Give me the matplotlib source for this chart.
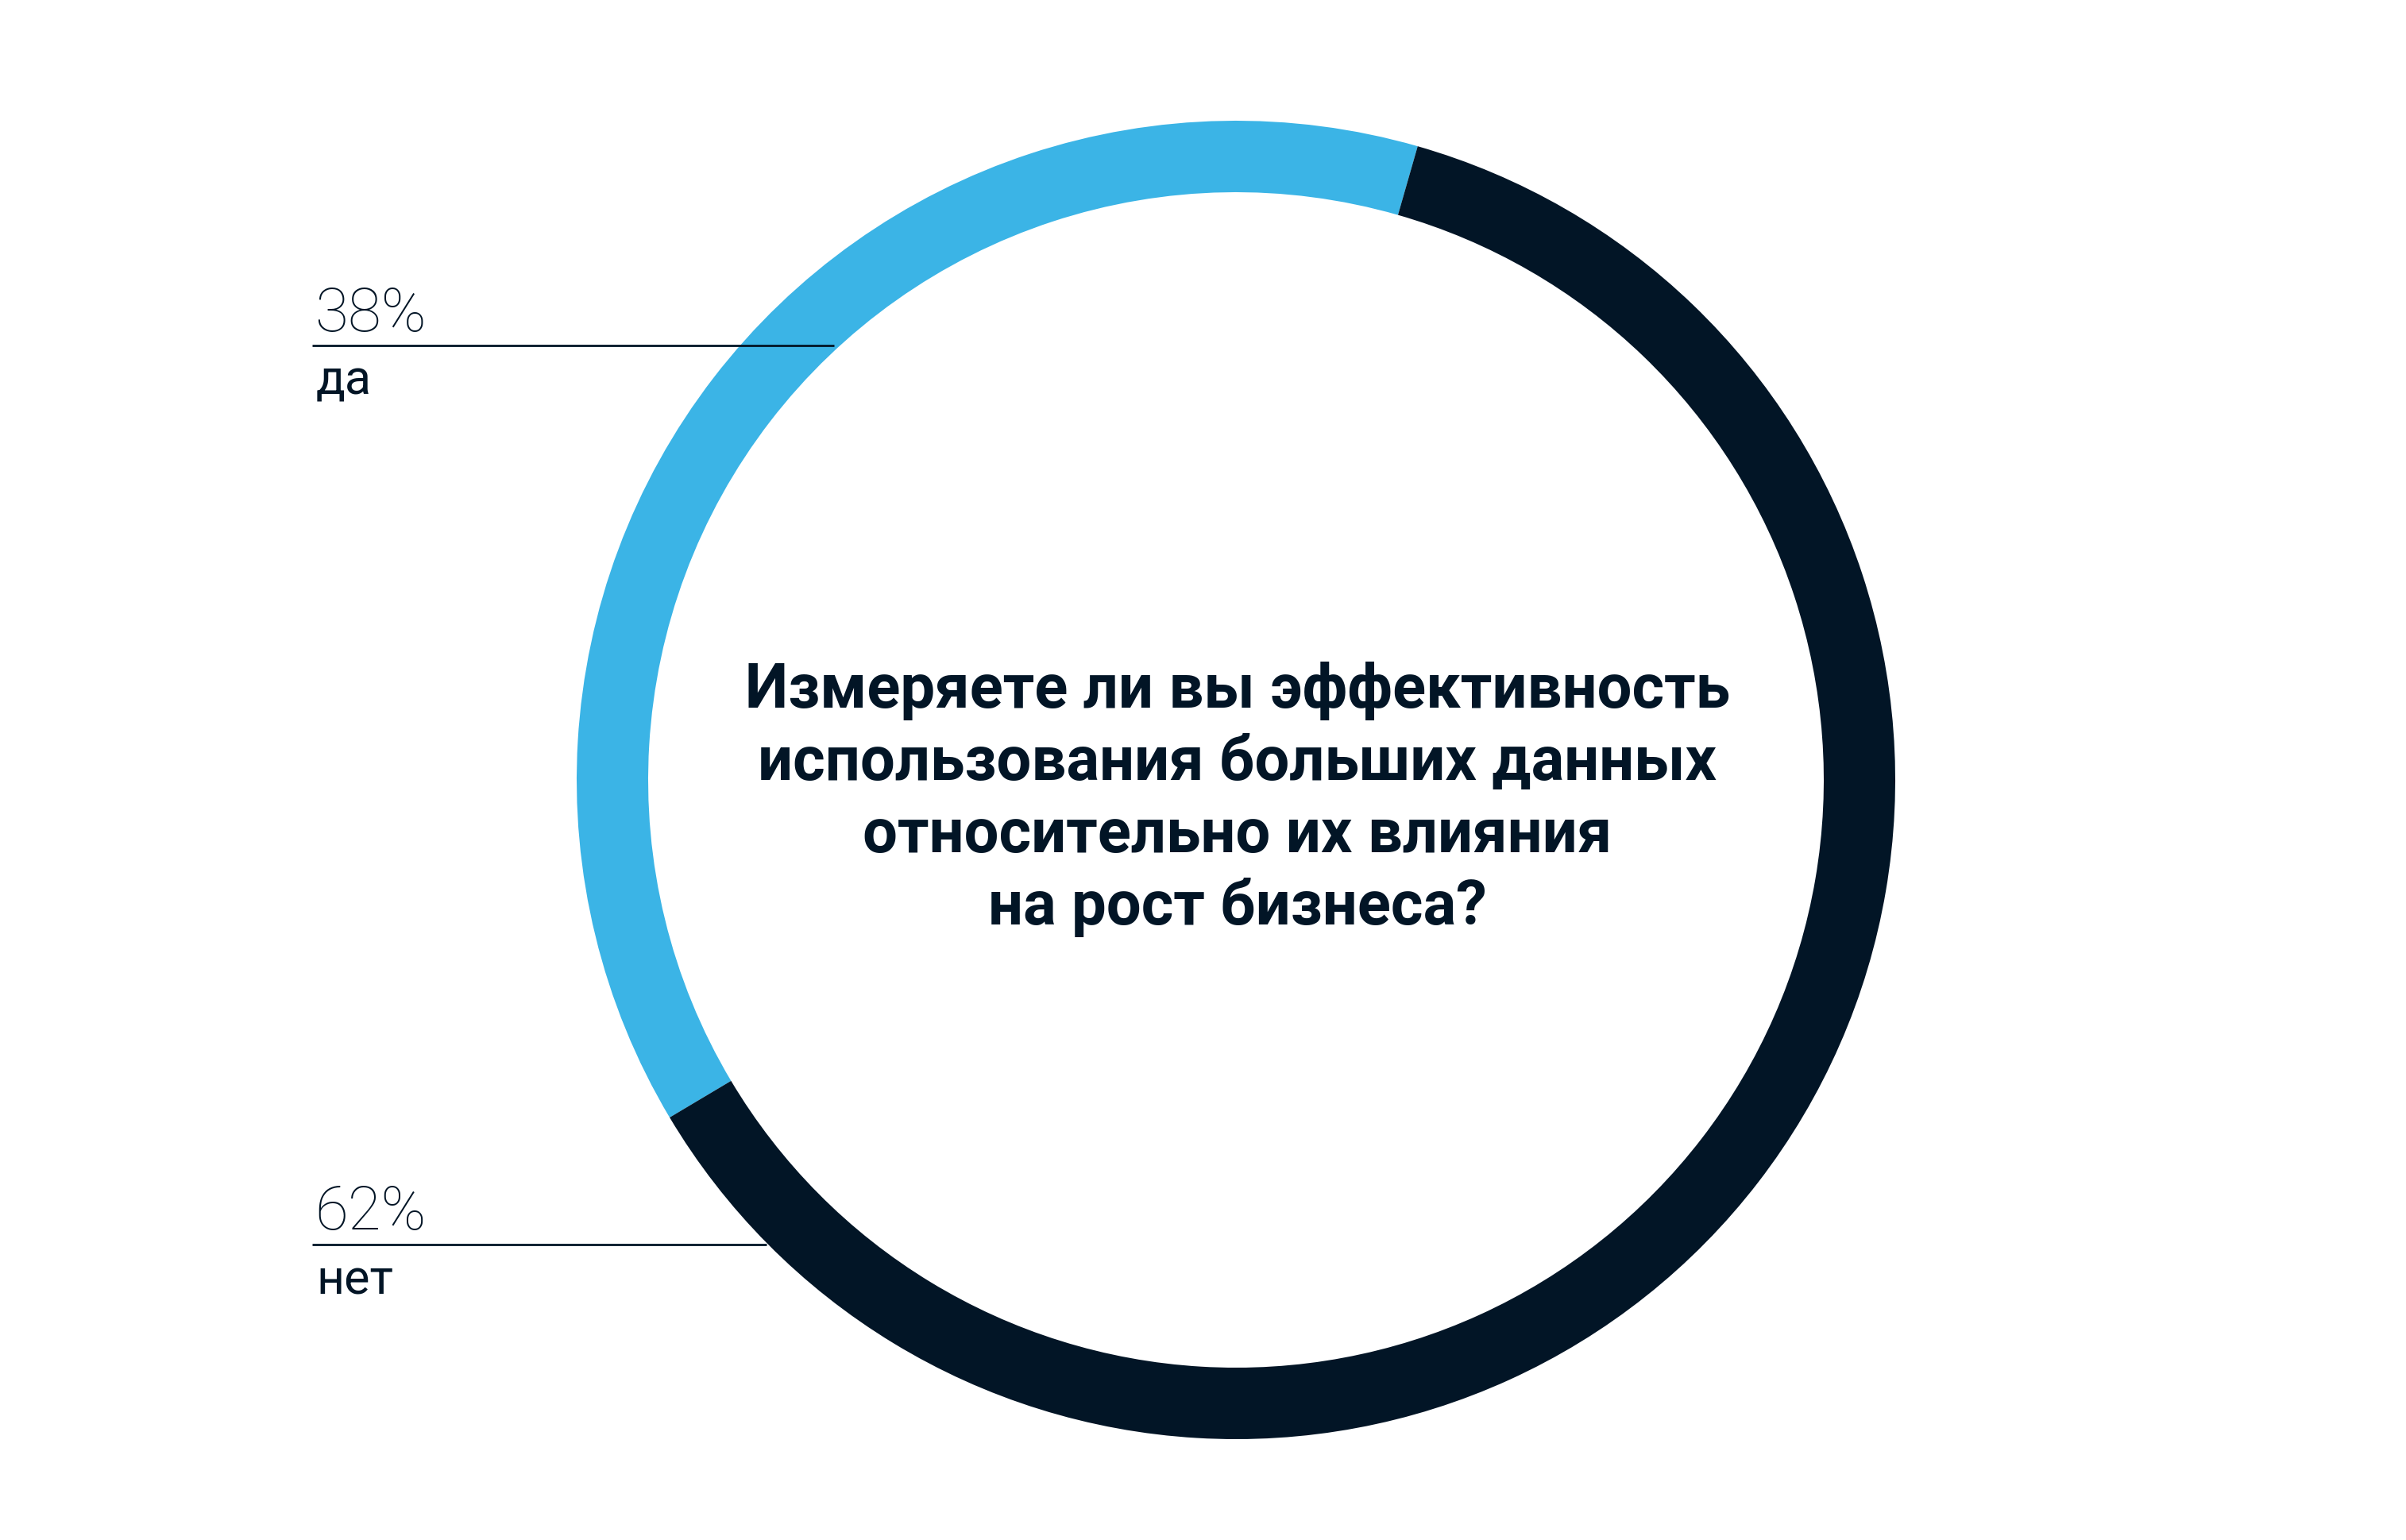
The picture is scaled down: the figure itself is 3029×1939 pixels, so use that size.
import matplotlib.pyplot as plt

# données
labels = ['да', 'нет']
values = [38, 62]
colors = ['#3bb4e6', '#021526']
question = ['Измеряете ли вы эффективность',
            'использования больших данных',
            'относительно их влияния',
            'на рост бизнеса?']

W, H = 3029, 1940
fig = plt.figure(figsize=(W / 100, H / 100), dpi=100)
ax = fig.add_axes([0, 0, 1, 1])

# anneau (y inversé -> angles dans le sens horaire)
ax.pie(values, colors=colors, startangle=-74, counterclock=False,
       center=(1556, 983), radius=830, frame=True,
       wedgeprops=dict(width=90, linewidth=0))
ax.set_xlim(0, W)
ax.set_ylim(H, 0)
ax.set_aspect('equal')
ax.axis('off')

# question au centre
baselines = [891, 982, 1073, 1164]
for line, yb in zip(question, baselines):
    ax.text(1558, yb, line, ha='center', va='baseline', fontsize=56,
            fontweight='bold', family='Roboto', color='#021526')

# étiquettes
label_rows = [(417, 436, 497, 1050), (1548, 1568, 1630, 965)]
for (yp, yl, yt, xend), lab, v in zip(label_rows, labels, values):
    ax.text(396, yp, f'{v}%', ha='left', va='baseline', fontsize=55,
            fontweight='light', family='Roboto', color='#021526')
    ax.plot([393, xend], [yl, yl], color='#021526', lw=2, solid_capstyle='butt')
    ax.text(398, yt, lab, ha='left', va='baseline', fontsize=44,
            fontweight='normal', family='Roboto', color='#021526')

fig.savefig('out.png', dpi=100, facecolor='white')
